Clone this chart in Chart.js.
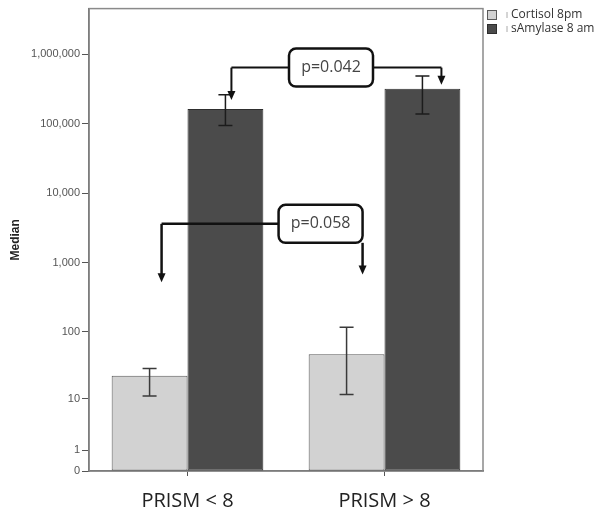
<!DOCTYPE html>
<html>
<head>
<meta charset="utf-8">
<script src="https://cdn.jsdelivr.net/npm/chart.js@4.4.0/dist/chart.umd.min.js"></script>
<style>
  html, body { margin: 0; padding: 0; background: #fff; }
  #wrap { width: 604px; height: 514px; }
</style>
</head>
<body>
<div id="wrap"><canvas id="c"></canvas></div>
<script>
// ---- data ----
const categories = ['PRISM < 8', 'PRISM > 8'];
const seriesNames = ['Cortisol 8pm', 'sAmylase 8 am'];
const cortisolMedian = [22.5, 47];
const cortisolLow = [11, 11.6];
const cortisolHigh = [29, 117];
const amylaseMedian = [164000, 319000];
const amylaseLow = [94600, 139000];
const amylaseHigh = [262000, 490000];
const tickValues = [0, 1, 10, 100, 1000, 10000, 100000, 1000000];
const tickLabels = ['0', '1', '10', '100', '1,000', '10,000', '100,000', '1,000,000'];
const pLabels = ['p=0.042', 'p=0.058'];

// axis is log10(value + 1) so that 0 can sit on the baseline
const toAxis = v => Math.log10(v + 1);

const lows = [cortisolLow, amylaseLow];
const highs = [cortisolHigh, amylaseHigh];
const FILLS = ['#d2d2d2', '#4b4b4b'];
const EDGES = ['#5a5a5a', '#2e2e2e'];

// error bars
const errorBars = {
  id: 'errorBars',
  afterDatasetsDraw(chart) {
    const { ctx, scales: { y } } = chart;
    ctx.save();
    ctx.lineWidth = 1.5;
    [0, 1].forEach(i => {
      ctx.strokeStyle = i ? '#1c1c1c' : '#3a3a3a';
      chart.getDatasetMeta(i).data.forEach((bar, j) => {
        const yHi = y.getPixelForValue(toAxis(highs[i][j]));
        const yLo = y.getPixelForValue(toAxis(lows[i][j]));
        ctx.beginPath();
        ctx.moveTo(bar.x, yHi); ctx.lineTo(bar.x, yLo);
        ctx.moveTo(bar.x - 7, yHi); ctx.lineTo(bar.x + 7, yHi);
        ctx.moveTo(bar.x - 7, yLo); ctx.lineTo(bar.x + 7, yLo);
        ctx.stroke();
      });
    });
    ctx.restore();
  }
};

// plot frame
const frame = {
  id: 'frame',
  beforeDatasetsDraw(chart) {
    const { ctx, chartArea: a } = chart;
    ctx.save();
    ctx.strokeStyle = '#8a8a8a';
    ctx.lineWidth = 1.5;
    ctx.strokeRect(a.left, a.top, a.right - a.left, a.bottom - a.top);
    ctx.restore();
  }
};

// legend at top right
const sideLegend = {
  id: 'sideLegend',
  afterDraw(chart) {
    const { ctx, chartArea: a } = chart;
    ctx.save();
    ctx.font = '12px "Open Sans"';
    ctx.textBaseline = 'middle';
    seriesNames.forEach((name, i) => {
      const yc = 15 + i * 14;
      const x0 = a.right + 4;
      ctx.fillStyle = FILLS[i];
      ctx.fillRect(x0, yc - 5, 10, 10);
      ctx.strokeStyle = EDGES[i];
      ctx.lineWidth = 1;
      ctx.strokeRect(x0 + 0.5, yc - 4.5, 9, 9);
      ctx.strokeStyle = '#aaa';
      ctx.beginPath(); ctx.moveTo(x0 + 20, yc - 3); ctx.lineTo(x0 + 20, yc + 3); ctx.stroke();
      ctx.fillStyle = '#333';
      ctx.fillText(name, x0 + 24, yc);
    });
    ctx.restore();
  }
};

// p-value brackets
function arrowDown(ctx, x, yFrom, yTip) {
  ctx.beginPath(); ctx.moveTo(x, yFrom); ctx.lineTo(x, yTip - 8); ctx.stroke();
  ctx.beginPath(); ctx.moveTo(x - 4, yTip - 9); ctx.lineTo(x + 4, yTip - 9); ctx.lineTo(x, yTip); ctx.closePath(); ctx.fill();
}
function pBox(ctx, cx, cy, w, h, text) {
  ctx.beginPath();
  ctx.roundRect(cx - w / 2, cy - h / 2, w, h, 7);
  ctx.fillStyle = '#fff'; ctx.fill();
  ctx.lineWidth = 2.5; ctx.stroke();
  ctx.fillStyle = '#444';
  ctx.font = '16px "Open Sans"';
  ctx.textAlign = 'center'; ctx.textBaseline = 'middle';
  ctx.fillText(text, cx, cy);
  ctx.fillStyle = '#111';
}
const brackets = {
  id: 'brackets',
  afterDraw(chart) {
    const { ctx, chartArea: a, scales: { y } } = chart;
    const c = chart.getDatasetMeta(0).data, s = chart.getDatasetMeta(1).data;
    ctx.save();
    ctx.strokeStyle = '#111'; ctx.fillStyle = '#111'; ctx.lineWidth = 2;

    // sAmylase comparison
    const y1 = y.getPixelForValue(5.81);
    const bx1 = a.left + 242, lx1 = s[0].x + 6, rx1 = s[1].x + 19;
    ctx.beginPath(); ctx.moveTo(bx1, y1); ctx.lineTo(lx1, y1); ctx.moveTo(bx1, y1); ctx.lineTo(rx1, y1); ctx.stroke();
    arrowDown(ctx, lx1, y1, s[0].y - 9);
    arrowDown(ctx, rx1, y1, s[1].y - 4);
    pBox(ctx, bx1, y1, 84, 38, pLabels[0]);

    // cortisol comparison
    const y2 = y.getPixelForValue(3.56);
    const lx2 = c[0].x + 12, rx2 = c[1].x + 16;
    const bx2 = rx2 - 42;
    ctx.beginPath(); ctx.moveTo(bx2, y2); ctx.lineTo(lx2, y2); ctx.stroke();
    arrowDown(ctx, lx2, y2, y.getPixelForValue(2.72));
    arrowDown(ctx, rx2, y2 + 19, y.getPixelForValue(2.83));
    pBox(ctx, bx2, y2, 84, 38, pLabels[1]);
    ctx.restore();
  }
};

new Chart(document.getElementById('c'), {
  type: 'bar',
  data: {
    labels: categories,
    datasets: [
      { label: seriesNames[0], data: cortisolMedian.map(toAxis), backgroundColor: FILLS[0], borderColor: EDGES[0], borderWidth: 1, borderSkipped: false },
      { label: seriesNames[1], data: amylaseMedian.map(toAxis), backgroundColor: FILLS[1], borderColor: EDGES[1], borderWidth: 1, borderSkipped: false }
    ]
  },
  options: {
    responsive: true,
    maintainAspectRatio: false,
    animation: false,
    layout: { padding: { top: 6, right: 121, left: 0, bottom: 0 } },
    datasets: { bar: { categoryPercentage: 0.77, barPercentage: 1 } },
    plugins: { legend: { display: false }, tooltip: { enabled: false } },
    scales: {
      x: {
        afterFit: s => { s.height = 43; },
        grid: { drawOnChartArea: false, offset: false, tickLength: 5, color: '#555' },
        border: { color: '#555', width: 1.5 },
        ticks: { padding: 13, color: '#222', font: { family: 'Open Sans', size: 20 } }
      },
      y: {
        min: 0,
        max: 6.66,
        afterFit: s => { s.width = 89; },
        afterBuildTicks: s => { s.ticks = tickValues.map(v => ({ value: toAxis(v) })); },
        grid: { drawOnChartArea: false, tickLength: 7, color: '#555' },
        border: { color: '#555', width: 1.5 },
        ticks: { padding: 2, color: '#555', font: { family: 'Liberation Sans', size: 11 }, callback: (v, i) => tickLabels[i] },
        title: { display: true, text: 'Median', color: '#222', padding: { top: 8, bottom: 0 }, font: { family: 'Liberation Sans', size: 12, weight: 'bold' } }
      }
    }
  },
  plugins: [frame, errorBars, brackets, sideLegend]
});
</script>
</body>
</html>
